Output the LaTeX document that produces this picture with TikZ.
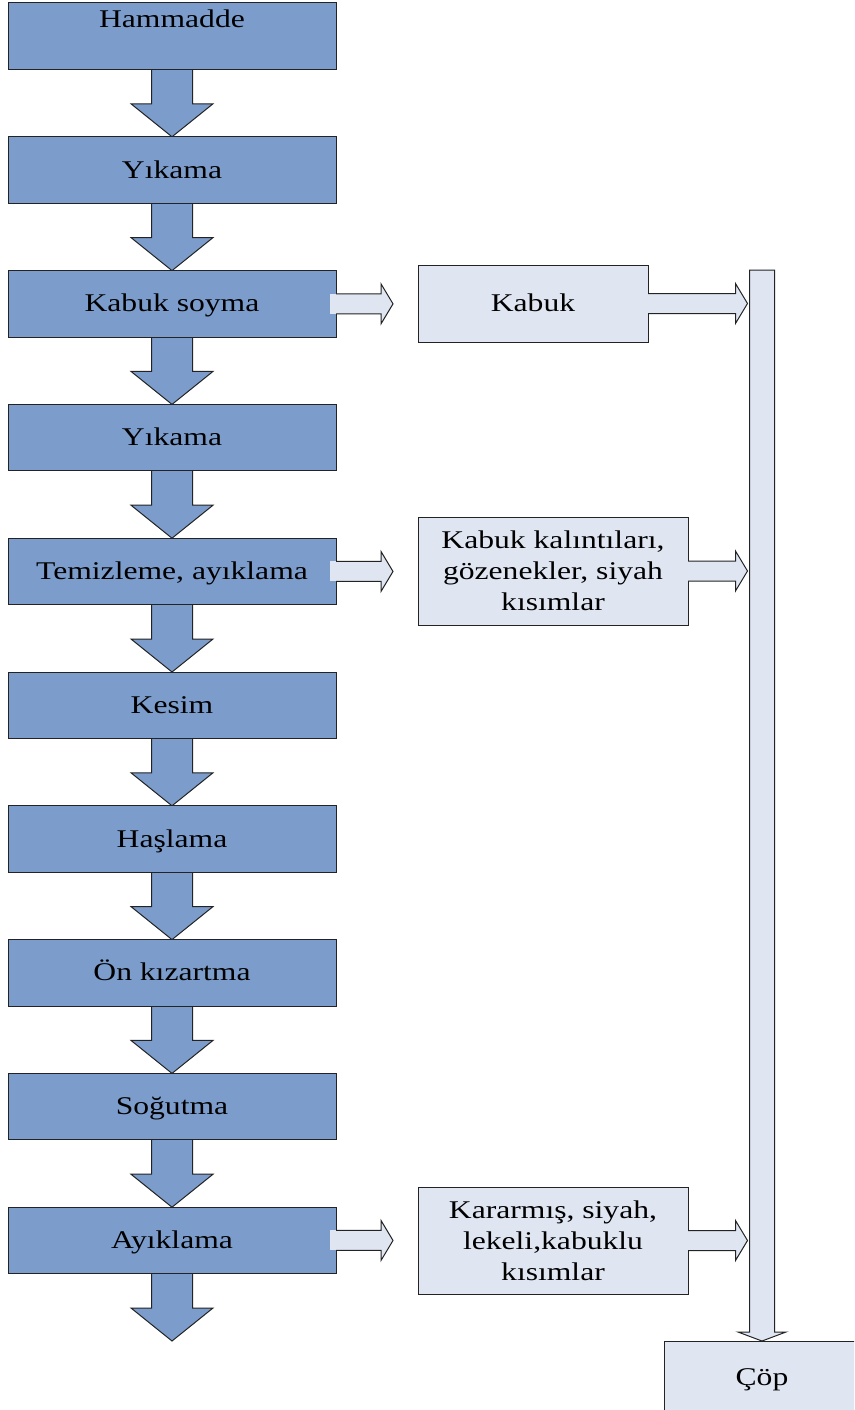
\documentclass[tikz,border=0pt]{standalone}
\usepackage{fontspec}
\setmainfont{Liberation Serif}[FakeStretch=1.24]
\usetikzlibrary{calc,backgrounds}
\definecolor{mainblue}{RGB}{124,157,204}
\definecolor{lightblue}{RGB}{223,230,242}
\definecolor{edgec}{RGB}{35,35,35}
\tikzset{
  base/.style={draw=edgec, line width=1pt, inner sep=0pt, outer sep=0pt,
    font=\fontsize{25.5}{31}\selectfont, align=center},
  txt/.style={inner sep=0pt, outer sep=0pt, font=\fontsize{25.5}{31}\selectfont,
    text height=18pt, text depth=2pt},
  mainbox/.style={base, fill=mainblue, minimum width=328pt, minimum height=66.5pt,
    text height=18pt, text depth=2pt},
  sidebox/.style={base, fill=lightblue},
  mainarrow/.style={fill=mainblue, draw=edgec, line width=1pt, line join=miter},
  sidearrow/.style={fill=lightblue, draw=edgec, line width=1pt, line join=miter},
}
\newcommand\downarr[2]{%
  \filldraw[mainarrow] ($(#1.south)+(-20.5,0)$) -- ($(#2)+(-20.5,-33)$)
    -- ($(#2)+(-41,-33)$) -- (#2) -- ($(#2)+(41,-33)$)
    -- ($(#2)+(20.5,-33)$) -- ($(#1.south)+(20.5,0)$);}
\newcommand\outarr[1]{%
  \fill[lightblue] ($(#1.east)+(-6,-10)$) rectangle ($(#1.east)+(0.5,10)$);
  \filldraw[sidearrow] ($(#1.east)+(0,-10)$) -- ($(#1.east)+(45,-10)$)
    -- ($(#1.east)+(45,-20)$) -- ($(#1.east)+(57,0)$) -- ($(#1.east)+(45,20)$)
    -- ($(#1.east)+(45,10)$) -- ($(#1.east)+(0,10)$);}
\newcommand\binarr[1]{%
  \fill[lightblue] ($(#1.east)+(-1,-10)$) rectangle ($(#1.east)+(0.5,10)$);
  \filldraw[sidearrow] ($(#1.east)+(0,-10)$) -- ($(#1.east -| barL)+(-14,-10)$)
    -- ($(#1.east -| barL)+(-14,-20)$) -- ($(#1.east -| barL)+(-2,0)$)
    -- ($(#1.east -| barL)+(-14,20)$) -- ($(#1.east -| barL)+(-14,10)$)
    -- ($(#1.east)+(0,10)$);}
\begin{document}
\begin{tikzpicture}[x=1pt,y=-1pt]
\useasboundingbox (0,0) rectangle (854,1410);
\clip (0,0) rectangle (854,1410);
% main process boxes
\node[mainbox] (b1) at (172,36.25) {};
\node[txt] (t1) at (172,20) {Hammadde};
\node[mainbox] (b2) at (172,170.05) {Yıkama};
\node[mainbox] (b3) at (172,303.85) {Kabuk soyma};
\node[mainbox] (b4) at (172,437.65) {Yıkama};
\node[mainbox] (b5) at (172,571.45) {Temizleme, ayıklama};
\node[mainbox] (b6) at (172,705.25) {Kesim};
\node[mainbox] (b7) at (172,839.05) {Haşlama};
\node[mainbox] (b8) at (172,972.85) {Ön kızartma};
\node[mainbox] (b9) at (172,1106.65) {Soğutma};
\node[mainbox] (b10) at (172,1240.45) {Ayıklama};
\coordinate (endp) at (172,1341);
% waste boxes
\node[sidebox, minimum width=230pt, minimum height=77pt, text height=18pt, text depth=2pt] (s1) at (533,303.5) {Kabuk};
\node[sidebox, minimum width=270pt, minimum height=108pt] (s2) at (553,571) {Kabuk kalıntıları,\\gözenekler, siyah\\kısımlar};
\node[sidebox, minimum width=270pt, minimum height=107pt] (s3) at (553,1240.5) {Kararmış, siyah,\\lekeli,kabuklu\\kısımlar};
\node[sidebox, minimum width=236pt, minimum height=80pt] (cop) at (782,1381) {};
\node[txt] (copt) at (762,1377) {Çöp};
\coordinate (copin) at (762,1341);
\coordinate (bartop) at (762,270);
\coordinate (barL) at (749.5,800);
% down arrows
\begin{scope}[on background layer]
\downarr{b1}{b2.north}
\downarr{b2}{b3.north}
\downarr{b3}{b4.north}
\downarr{b4}{b5.north}
\downarr{b5}{b6.north}
\downarr{b6}{b7.north}
\downarr{b7}{b8.north}
\downarr{b8}{b9.north}
\downarr{b9}{b10.north}
\downarr{b10}{endp}
\end{scope}
% collecting bar
\filldraw[sidearrow] ($(bartop)+(-12.5,0)$) -- ($(copin)+(-12.5,-9)$)
  -- ($(copin)+(-24,-9)$) -- (copin) -- ($(copin)+(24,-9)$)
  -- ($(copin)+(12.5,-9)$) -- ($(bartop)+(12.5,0)$) -- cycle;
% side arrows
\outarr{b3}
\outarr{b5}
\outarr{b10}
\binarr{s1}
\binarr{s2}
\binarr{s3}
\end{tikzpicture}
\end{document}
